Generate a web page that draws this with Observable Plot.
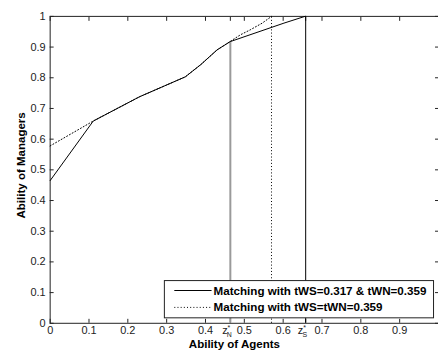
<!DOCTYPE html>
<html><head><meta charset="utf-8">
<script src="https://cdn.jsdelivr.net/npm/d3@7"></script>
<script src="https://cdn.jsdelivr.net/npm/@observablehq/plot@0.6"></script>
<style>html,body{margin:0;padding:0;background:#fff;overflow:hidden}#chart{width:438px;height:356px;overflow:hidden}</style>
</head><body><div id="chart"></div>
<script>
// Data
const solidX  = [0, 0.111, 0.23, 0.348, 0.388, 0.43, 0.464, 0.602, 0.656];
const solidY  = [0.465, 0.659, 0.738, 0.803, 0.843, 0.891, 0.918, 0.978, 1.0];
const dottedX = [0, 0.111, 0.23, 0.348, 0.388, 0.43, 0.49, 0.515, 0.546, 0.57];
const dottedY = [0.578, 0.659, 0.738, 0.803, 0.843, 0.891, 0.94, 0.956, 0.978, 1.0];
const zN = 0.464, zNTop = 0.918;   // vertical (solid series) at z*_N
const zS = 0.658;                  // vertical (solid series) at z*_S
const zDot = 0.57;                 // vertical (dotted series)
const seriesNames = ["Matching with tWS=0.317 & tWN=0.359", "Matching with tWS=tWN=0.359"];
const xTickVals = [0, 0.1, 0.2, 0.3, 0.4, 0.5, 0.6, 0.7, 0.8, 0.9, zN, zS];
const yTickVals = [0, 0.1, 0.2, 0.3, 0.4, 0.5, 0.6, 0.7, 0.8, 0.9, 1];
const xLabel = "Ability of Agents", yLabel = "Ability of Managers";

const solid = solidX.map((x, i) => ({x, y: solidY[i]}));
const dotted = dottedX.map((x, i) => ({x, y: dottedY[i]}));
const fmtX = d => d === zN ? "zN" : d === zS ? "zS" : String(d);
const ink = "#222";
const dash = "1,2.2";
const W = 441, H = 356, mL = 50, mR = 0, mT = 16, mB = 31;

const plot = Plot.plot({
  width: W, height: H,
  marginLeft: mL, marginRight: mR, marginTop: mT, marginBottom: mB,
  x: {domain: [0, 1]},
  y: {domain: [0, 1]},
  style: {fontFamily: "'Liberation Sans', Arial, sans-serif", fontSize: "11px", color: ink, background: "white"},
  marks: [
    Plot.frame({stroke: ink}),
    Plot.axisX(xTickVals, {anchor: "bottom", tickSize: -4, tickPadding: 7, tickFormat: fmtX, label: null, stroke: ink, fill: ink}),
    Plot.axisX(xTickVals, {anchor: "top", tickSize: -4, tickFormat: () => "", label: null, stroke: ink}),
    Plot.axisY(yTickVals, {anchor: "left", tickSize: -4, tickPadding: 8.5, tickFormat: d => String(d), label: null, stroke: ink, fill: ink}),
    Plot.axisY(yTickVals, {anchor: "right", tickSize: -4, tickFormat: () => "", label: null, stroke: ink}),
    Plot.ruleX([zN], {y1: 0, y2: zNTop, stroke: "#9a9a9a", strokeWidth: 2}),
    Plot.ruleX([zS], {y1: 0, y2: 1, stroke: "#000", strokeWidth: 1}),
    Plot.ruleX([zDot], {y1: 0, y2: 1, stroke: "#000", strokeWidth: 1, strokeDasharray: dash}),
    Plot.line(dotted, {x: "x", y: "y", stroke: "#000", strokeWidth: 1, strokeDasharray: dash}),
    Plot.line(solid, {x: "x", y: "y", stroke: "#000", strokeWidth: 1})
  ]
});

const svg = d3.select(plot);

// sub/superscript tick labels z*_N and z*_S, right-aligned at their tick
svg.selectAll("text").each(function() {
  const t = this.textContent;
  if (t === "zN" || t === "zS") {
    const sel = d3.select(this);
    sel.text("").attr("text-anchor", "end");
    sel.append("tspan").attr("dx", 1.5).text("z");
    sel.append("tspan").attr("dy", -4).attr("font-size", 7).text("*");
    sel.append("tspan").attr("dx", -3.5).attr("dy", 7).attr("font-size", 7).text(t[1]);
  }
});

// axis titles
svg.append("text").attr("transform", `translate(${(mL + 438) / 2 - 8},346)`)
  .attr("text-anchor", "middle").attr("dy", "0.35em")
  .attr("font-weight", "bold").attr("font-size", 11.6).attr("fill", "#000").text(xLabel);
svg.append("text").attr("transform", `translate(21,${(mT + H - mB) / 2 - 4}) rotate(-90)`)
  .attr("text-anchor", "middle").attr("dy", "0.35em")
  .attr("font-weight", "bold").attr("font-size", 11.6).attr("fill", "#000").text(yLabel);

// legend box
const lg = svg.append("g").attr("text-anchor", "start");
lg.append("rect").attr("x", 165.5).attr("y", 282.5).attr("width", 271).attr("height", 37.5)
  .attr("fill", "white").attr("stroke", ink);
seriesNames.forEach((name, i) => {
  const y = 292.5 + i * 17;
  lg.append("line").attr("x1", 175.5).attr("x2", 213).attr("y1", y).attr("y2", y)
    .attr("stroke", "#000").attr("stroke-dasharray", i === 1 ? dash : null);
  lg.append("text").attr("x", 215).attr("y", y).attr("dy", "0.35em").attr("text-anchor", "start")
    .attr("font-weight", "bold").attr("font-size", 11.7).attr("fill", "#000").text(name);
});

document.getElementById("chart").append(plot);
</script>
</body></html>
